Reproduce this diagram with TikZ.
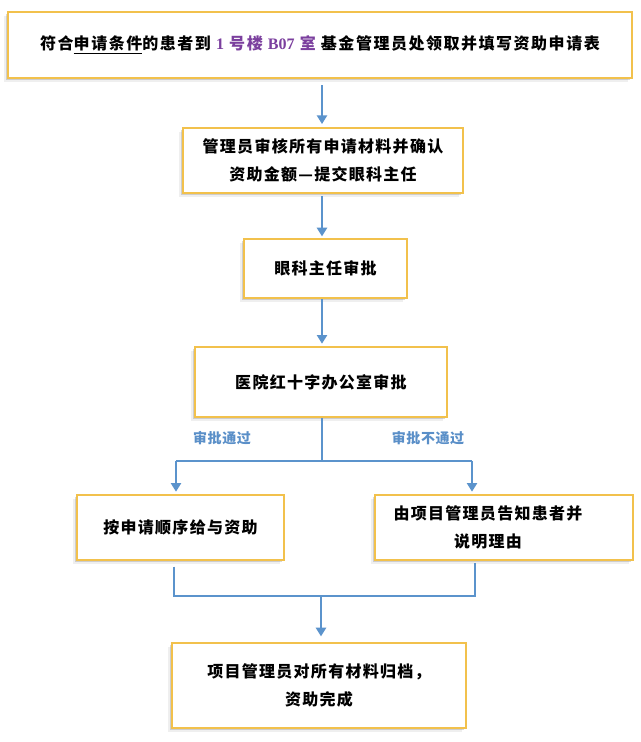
\documentclass[tikz,border=0pt]{standalone}
\usepackage{fontspec}
\setmainfont{Liberation Serif}
\newfontfamily\cjk[LetterSpace=8]{Noto Sans CJK SC}
\newfontfamily\cjktop[LetterSpace=9.5]{Noto Sans CJK SC}
\newfontfamily\cjklab[LetterSpace=4]{Noto Sans CJK SC}
\usetikzlibrary{arrows.meta,shadows}
\definecolor{gold}{HTML}{F2C14C}
\definecolor{lineblue}{HTML}{5B93CC}
\definecolor{labblue}{HTML}{5A8FC8}
\definecolor{roompurple}{HTML}{7B3F9E}
\tikzset{
  box/.style={draw=gold, line width=1.9pt, fill=white, rectangle, inner sep=0pt,
    align=center, font=\cjk\bfseries\fontsize{12}{21.5}\selectfont,
    drop shadow={shadow xshift=-1.5pt, shadow yshift=-1.5pt, opacity=.30, fill=gray},
    drop shadow={shadow xshift=-3pt, shadow yshift=-3pt, opacity=.12, fill=gray}},
  conn/.style={draw=lineblue, line width=1.7pt},
  arr/.style={conn, -{Triangle[width=7.5pt,length=6.5pt]}},
  lab/.style={text=labblue, font=\cjklab\bfseries\fontsize{10.5}{12}\selectfont, inner sep=0pt}
}
\begin{document}
\begin{tikzpicture}[x=0.75pt,y=-0.75pt]
\useasboundingbox (0,0) rectangle (640,742);
\fill[white] (0,0) rectangle (640,742);

\node[box, font=\cjktop\bfseries\fontsize{12}{21.5}\selectfont, minimum width=624*0.75pt, minimum height=66*0.75pt] (b1) at (320,45)
  {符合\underline{申请条件}的患者到 \textcolor{roompurple}{{\rmfamily 1} 号楼 {\rmfamily B07} 室} 基金管理员处领取并填写资助申请表};
\node[box, minimum width=280*0.75pt, minimum height=65*0.75pt] (b2) at (323,160.5)
  {管理员审核所有申请材料并确认\\资助金额—提交眼科主任};
\node[box, minimum width=163*0.75pt, minimum height=59*0.75pt] (b3) at (325.5,268.5)
  {眼科主任审批};
\node[box, minimum width=252*0.75pt, minimum height=70*0.75pt] (b4) at (321,382)
  {医院红十字办公室审批};
\node[box, minimum width=207*0.75pt, minimum height=65*0.75pt] (b5) at (180.5,527.5)
  {按申请顺序给与资助};
\node[box, minimum width=258*0.75pt, minimum height=65*0.75pt] (b6) at (504,527.5)
  {由项目管理员告知患者并\hspace*{24pt}\\说明理由\hspace*{24pt}};
\node[box, minimum width=294*0.75pt, minimum height=85*0.75pt] (b7) at (319,685.5)
  {项目管理员对所有材料归档，\\资助完成};

\node[lab] (l1) at (222,438) {审批通过};
\node[lab] (l2) at (428,438) {审批不通过};

\coordinate (c1) at (322,84);
\coordinate (sm) at (322,461);
\coordinate (sl) at (176,461);
\coordinate (sr) at (472,461);
\coordinate (jl) at (174,596);
\coordinate (jr) at (475,596);
\coordinate (jm) at (321,596);

\draw[arr, shorten <=4.5pt, shorten >=2pt] (b1.south -| c1) -- (b2.north -| c1);
\draw[arr, shorten <=1.5pt, shorten >=1pt] (b2.south -| c1) -- (b3.north -| c1);
\draw[arr, shorten >=1.5pt] (b3.south -| c1) -- (b4.north -| c1);
\draw[conn] (b4.south -| sm) -- (sm);
\draw[conn] (sl) -- (sr);
\draw[arr, shorten >=1.5pt] (sl) -- (sl |- b5.north);
\draw[arr, shorten >=1.5pt] (sr) -- (sr |- b6.north);
\draw[conn, shorten <=4pt] (jl |- b5.south) -- (jl) -- (jr) -- ([yshift=-1.5pt]jr |- b6.south);
\draw[arr, shorten >=4pt] (jm) -- (jm |- b7.north);
\end{tikzpicture}
\end{document}
